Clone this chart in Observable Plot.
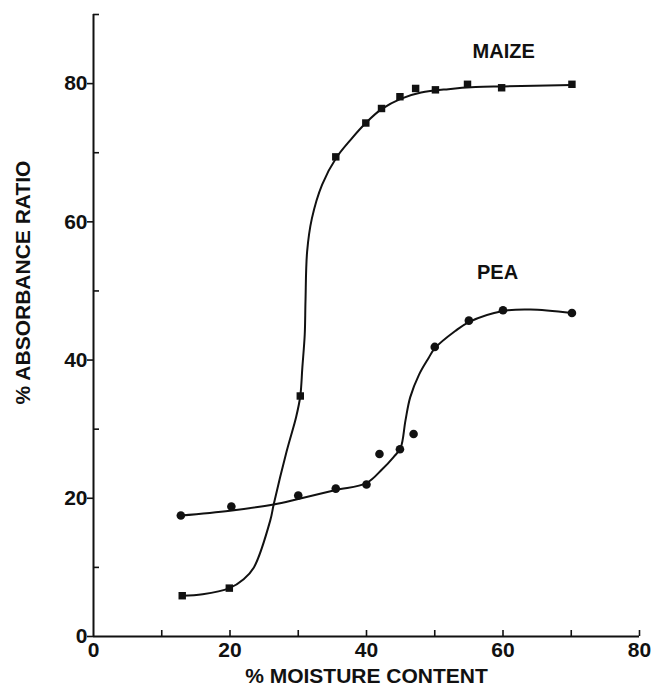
<!DOCTYPE html>
<html>
<head>
<meta charset="utf-8">
<script src="https://cdn.jsdelivr.net/npm/d3@7"></script>
<script src="https://cdn.jsdelivr.net/npm/@observablehq/plot@0.6"></script>
<style>
  html, body { margin: 0; padding: 0; background: #fff; }
  #chart svg { font-family: "Liberation Sans", Arial, sans-serif; }
  #chart svg text { font-weight: 700; }
</style>
</head>
<body>
<div id="chart"></div>
<script>
const maizeX = [13.0, 19.9, 30.3, 35.5, 39.9, 42.2, 44.9, 47.2, 50.1, 54.8, 59.8, 70.1];
const maizeY = [5.9, 7.0, 34.8, 69.4, 74.3, 76.4, 78.1, 79.3, 79.1, 79.9, 79.4, 79.9];
const peaX = [12.8, 20.2, 30.0, 35.5, 40.0, 41.9, 44.9, 46.9, 50.0, 55.0, 60.0, 70.1];
const peaY = [17.5, 18.8, 20.4, 21.4, 22.0, 26.4, 27.1, 29.3, 41.9, 45.7, 47.2, 46.8];

// Hand-drawn fitted curves
const maizeFitX = [13.0, 16.0, 19.9, 22.0, 23.5, 25.9, 26.4, 28.3, 29.7, 30.3, 30.6, 30.95, 31.06, 31.3, 32.0, 33.5, 35.6, 37.7, 40.0, 42.2, 45.0, 48.0, 52.0, 56.0, 60.0, 70.1];
const maizeFitY = [5.9, 6.1, 7.0, 8.3, 10.0, 16.8, 19.1, 26.8, 31.8, 34.8, 38.9, 43.7, 48.5, 55.7, 60.5, 65.4, 69.3, 71.9, 74.4, 76.3, 77.8, 78.7, 79.2, 79.5, 79.6, 79.8];
const peaFitX = [12.8, 20.0, 26.4, 30.0, 35.5, 40.0, 42.3, 44.0, 45.0, 45.7, 46.4, 47.7, 49.1, 50.0, 53.0, 55.0, 60.0, 64.0, 70.1];
const peaFitY = [17.5, 18.2, 19.1, 19.9, 21.2, 22.2, 24.2, 26.0, 27.3, 31.2, 34.6, 37.9, 40.3, 41.7, 44.2, 45.5, 47.1, 47.3, 46.8];

// Series labels
const labelText = ["MAIZE", "PEA"];
const labelX = [60.1, 59.2];
const labelY = [84.6, 52.6];

// Ticks
const xTicks = [0, 20, 40, 60, 80];
const xMinor = [10, 20, 30, 40, 50, 60, 70, 80];
const yTicks = [0, 20, 40, 60, 80];
const yMinor = [10, 30, 50, 70, 90];

const xTitle = "% MOISTURE CONTENT";
const yTitle = "% ABSORBANCE RATIO";

const pts = (xs, ys) => xs.map((x, i) => ({x, y: ys[i]}));
const ink = "#111";

const chart = Plot.plot({
  width: 653,
  height: 692,
  marginLeft: 93,
  marginRight: 14,
  marginTop: 14,
  marginBottom: 56,
  x: {domain: [0, 80]},
  y: {domain: [0, 90]},
  style: {fontFamily: "'Liberation Sans', Arial, sans-serif", fontWeight: "bold", color: ink, background: "#fff"},
  marks: [
    Plot.ruleX([0], {stroke: ink, strokeWidth: 2}),
    Plot.ruleY([0], {stroke: ink, strokeWidth: 2}),
    // y major ticks (outward) with labels
    Plot.axisY({ticks: yTicks, tickSize: 6, tickPadding: 0, fontSize: 21, fontWeight: "bold", stroke: ink, strokeWidth: 1.6, fill: ink, label: null}),
    // y minor ticks (inward)
    Plot.axisY({ticks: yMinor, tickSize: 6, dx: 6, text: null, stroke: ink, strokeWidth: 1.6, label: null}),
    // x ticks (inward)
    Plot.axisX({ticks: xMinor, tickSize: 6, dy: -6, text: null, stroke: ink, strokeWidth: 1.6, label: null}),
    // x labels
    Plot.axisX({ticks: xTicks, tickSize: 0, tickPadding: 6, fontSize: 21, fontWeight: "bold", fill: ink, label: null}),
    // fitted curves
    Plot.line(pts(maizeFitX, maizeFitY), {x: "x", y: "y", curve: "catmull-rom", stroke: ink, strokeWidth: 2}),
    Plot.line(pts(peaFitX, peaFitY), {x: "x", y: "y", curve: "catmull-rom", stroke: ink, strokeWidth: 2}),
    // data points
    Plot.dot(pts(maizeX, maizeY), {x: "x", y: "y", symbol: "square", r: 4.2, fill: ink, stroke: "none"}),
    Plot.dot(pts(peaX, peaY), {x: "x", y: "y", symbol: "circle", r: 4.3, fill: ink, stroke: "none"}),
    // series labels
    Plot.text(labelText, {x: (d, i) => labelX[i], y: (d, i) => labelY[i], text: d => d, fontSize: 20, fontWeight: "bold", fill: ink}),
    // axis titles
    Plot.text([xTitle], {frameAnchor: "bottom", textAnchor: "middle", dy: 46, fontSize: 21, fontWeight: "bold", fill: ink}),
    Plot.text([yTitle], {frameAnchor: "left", textAnchor: "middle", dx: -70, dy: -43, rotate: -90, fontSize: 21, fontWeight: "bold", fill: ink})
  ]
});
document.getElementById("chart").appendChild(chart);
</script>
</body>
</html>
